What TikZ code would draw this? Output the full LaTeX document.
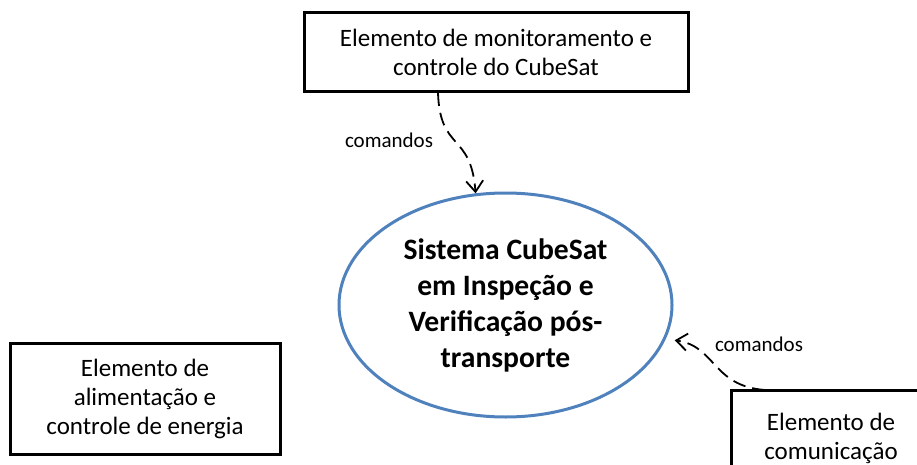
\documentclass[tikz,border=0pt]{standalone}
\usepackage{fontspec}
\setmainfont{Carlito}
\usetikzlibrary{shapes.geometric,arrows.meta}
\definecolor{ellblue}{HTML}{4F81BD}
\tikzset{
  elembox/.style={draw=black, line width=3pt, rectangle, inner sep=0pt, align=center,
    font=\fontsize{25}{29}\selectfont},
  sysell/.style={draw=ellblue, line width=3pt, ellipse, inner sep=0pt, align=center,
    minimum width=333pt, minimum height=224pt,
    font=\fontsize{29.6}{36}\selectfont\bfseries},
  conn/.style={draw=black, line width=1.8pt, dash pattern=on 13pt off 7pt,
    -{Straight Barb[length=11pt,width=17pt,line width=1.8pt]}},
  lbl/.style={inner sep=0pt, font=\fontsize{21}{25}\selectfont}
}
\begin{document}
\begin{tikzpicture}[x=1pt,y=-1pt]
\path[use as bounding box, clip] (0,0) rectangle (917,465);
\node[elembox, minimum width=384pt, minimum height=79pt] (top) at (496,52.5)
  {Elemento de monitoramento e\\controle do CubeSat};
\node[elembox, minimum width=270pt, minimum height=111pt] (left) at (145,398.5)
  {Elemento de\\alimentação e\\controle de energia};
\node[elembox, minimum width=200pt, minimum height=96pt] (right) at (831,438)
  {Elemento de\\comunicação};
\node[sysell] (sys) at (505.5,305)
  {Sistema CubeSat\\em Inspeção e\\Verificação pós-\\transporte};
\coordinate (a1) at (438,93);
\coordinate (a2) at (765,390);
\draw[conn] (a1) .. controls (440,152) and (471,132) .. (sys.105);
\draw[conn, shorten >=9pt] (a2) .. controls (712,386) and (716,346) .. (sys.-12);
\node[lbl] (l1) at (389,140) {comandos};
\node[lbl] (l2) at (759,344) {comandos};
\end{tikzpicture}
\end{document}
